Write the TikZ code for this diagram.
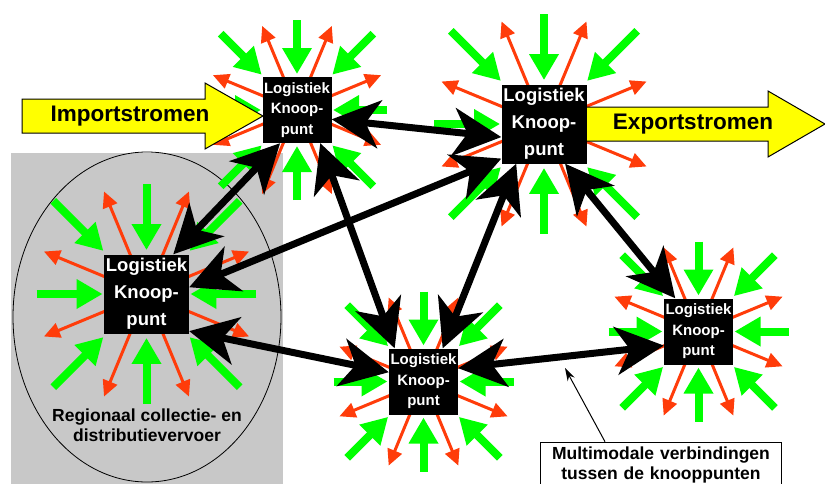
\documentclass[tikz,border=0pt]{standalone}
\usepackage{fontspec}
\setmainfont{Liberation Sans}
\usetikzlibrary{arrows.meta}

\definecolor{pijlgroen}{HTML}{00FF00}
\definecolor{pijlrood}{HTML}{FF3C0A}
\definecolor{vlakgrijs}{HTML}{C8C8C8}
\definecolor{stroomgeel}{HTML}{FFFF00}

\tikzset{
	knoop/.style={fill=black, text=white, inner sep=0pt, align=center},
	kleineknoop/.style={knoop, minimum width=69pt, minimum height=66pt, font=\fontsize{15}{20.5}\selectfont\bfseries},
	groteknoop/.style={knoop, minimum width=85pt, minimum height=79pt, font=\fontsize{18.5}{27}\selectfont\bfseries},
	aanvoer/.style={pijlgroen, line width=8pt, -{Triangle[length=26pt,width=28pt]}},
	afvoer/.style={pijlrood, line width=3pt, -{Triangle[length=16pt,width=15pt]}},
	verbinding/.style={line width=7pt, {Stealth[length=48pt,width=48pt,inset=14pt]}-{Stealth[length=48pt,width=48pt,inset=14pt]}},
	stroom/.style={fill=stroomgeel, draw=black, line width=1pt},
	stroomtekst/.style={font=\fontsize{22.5}{26}\selectfont\bfseries},
	uitlegtekst/.style={font=\fontsize{17.5}{20}\selectfont\bfseries, align=center},
	wijzer/.style={line width=1pt, -{Stealth[length=13pt,width=8pt]}}
}

\begin{document}
\begin{tikzpicture}[x=1pt,y=-1pt]
	\useasboundingbox (0,0) rectangle (825,483);
	\clip (0,0) rectangle (825,483);
	% regionaal gebied
	\fill[vlakgrijs] (11,152.5) rectangle (283,490);
	\draw[line width=0.8pt] (147,317) ellipse [x radius=134pt, y radius=165pt];
	% in- en uitgaande stromen rond elk knooppunt
	\foreach \cx/\cy/\s in {297/110/1, 544/124/1.22, 146.5/294/1.22, 423.5/381.5/1, 698.5/331.5/1}{
		\foreach \a in {0,90,180,270}
			\draw[aanvoer, shift={(\cx,\cy)}] (\a:{90*\s}) -- (\a:{36*\s});
		\foreach \a in {45,135,225,315}
			\draw[aanvoer, shift={(\cx,\cy)}] (\a:{108*\s}) -- (\a:{50*\s});
		\foreach \a in {22.5,67.5,...,337.5}
			\draw[afvoer, shift={(\cx,\cy)}] (\a:{30*\s}) -- (\a:{91*\s});
	}
	% import en export
	\draw[stroom] (22,99) -- (205,99) -- (205,83) -- (263,116) -- (205,149) -- (205,133) -- (22,133) -- cycle;
	\draw[stroom] (580,107) -- (768,107) -- (768,91) -- (825,124) -- (768,157) -- (768,141) -- (580,141) -- cycle;
	\node[stroomtekst] (importtekst) at (130,116) {Importstromen};
	\node[stroomtekst] (exporttekst) at (693,124) {Exportstromen};
	% knooppunten
	\node[kleineknoop] (knoopNW) at (297,110) {Logistiek\\Knoop-\\punt};
	\node[groteknoop] (knoopNO) at (544,124) {Logistiek\\Knoop-\\punt};
	\node[groteknoop] (knoopW) at (146.5,294) {Logistiek\\Knoop-\\punt};
	\node[kleineknoop] (knoopZ) at (423.5,381.5) {Logistiek\\Knoop-\\punt};
	\node[kleineknoop] (knoopO) at (698.5,331.5) {Logistiek\\Knoop-\\punt};
	% verbindingen
	\draw[verbinding] (knoopNW.-15) -- (knoopNO.197);
	\draw[verbinding] (knoopNW.243) -- (knoopW.56);
	\draw[verbinding] (knoopNW.-55) -- (knoopZ.131);
	\draw[verbinding] (knoopNO.219) -- (knoopW.9);
	\draw[verbinding] (knoopNO.235) -- (knoopZ.60);
	\draw[verbinding] (knoopNO.-62) -- (knoopO.125);
	\draw[verbinding] (knoopW.-41) -- (knoopZ.165);
	\draw[verbinding] (knoopZ.21) -- (knoopO.202);
	% teksten
	\node[uitlegtekst] (regio) at (147,425) {Regionaal collectie- en\\distributievervoer};
	\node[uitlegtekst, draw, fill=white, line width=1pt, anchor=north, text width=231pt, inner sep=5pt] (uitleg) at (661,441.7) {Multimodale verbindingen\\tussen de knooppunten};
	\coordinate (wijspunt) at (565,368);
	\draw[wijzer] ([xshift=-56pt]uitleg.north) -- (wijspunt);
\end{tikzpicture}
\end{document}
